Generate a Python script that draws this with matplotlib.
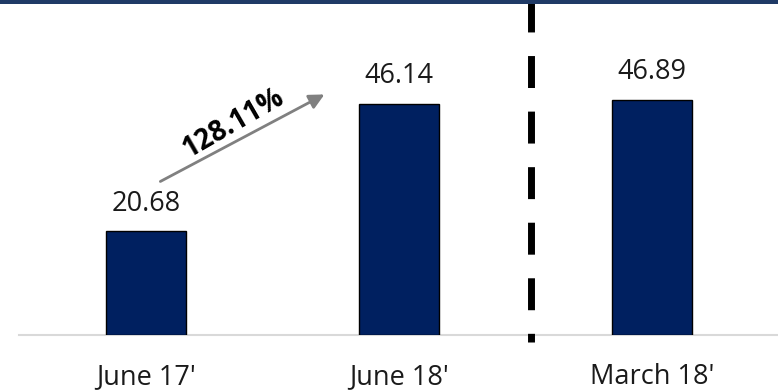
import matplotlib
matplotlib.use("Agg")
import matplotlib.pyplot as plt
from matplotlib.patches import Rectangle

categories = ["June 17'", "June 18'", "March 18'"]
values = [20.68, 46.14, 46.89]
value_labels = ["20.68", "46.14", "46.89"]
growth_label = "128.11%"

plt.rcParams['font.family'] = ['Open Sans', 'DejaVu Sans']

W, H = 778, 391
fig = plt.figure(figsize=(W / 100, H / 100), dpi=100)
ax = fig.add_axes([19.5 / W, 56 / H, 759 / W, 335 / H])

x = list(range(len(categories)))
ax.bar(x, values, width=0.32, color='#002060', edgecolor='#000000', linewidth=1, zorder=3)
ax.set_xlim(-0.5, 2.5)
ax.set_ylim(0, 66.9)

for xi, v, lab in zip(x, values, value_labels):
    ax.annotate(lab, (xi, v), xytext=(0, 10), textcoords='offset points',
                ha='center', va='bottom', fontsize=19.5, color='#1a1a1a')

ax.set_xticks(x)
ax.set_xticklabels(categories, fontsize=19.5, color='#1a1a1a')
ax.tick_params(axis='x', length=0, pad=20)
ax.set_yticks([])
for s in ['top', 'right', 'left']:
    ax.spines[s].set_visible(False)
ax.spines['bottom'].set_color('#d9d9d9')
ax.spines['bottom'].set_linewidth(1.5)

# growth arrow
ax.annotate('', xy=(0.715, 48.3), xytext=(0.047, 30.4),
            arrowprops=dict(arrowstyle='-|>,head_length=0.9,head_width=0.45',
                            color='#808080', lw=2), zorder=4)
ax.text(0.345, 42.2, growth_label, rotation=30, ha='center', va='center',
        fontsize=20, fontweight='bold', color='#000000', rotation_mode='anchor')

# separator dashed line
ax.plot([1.521, 1.521], [1.0, -0.02], transform=ax.get_xaxis_transform(),
        color='black', lw=5, linestyle=(0, (4.6, 3.4)), solid_capstyle='butt',
        dash_capstyle='butt', clip_on=False, zorder=5)

# top band
fig.patches.append(Rectangle((0, 1 - 3.5 / H), 1, 3.5 / H, transform=fig.transFigure,
                             facecolor='#1f3a66', edgecolor='none', zorder=10))

fig.savefig('out.png', dpi=100)
